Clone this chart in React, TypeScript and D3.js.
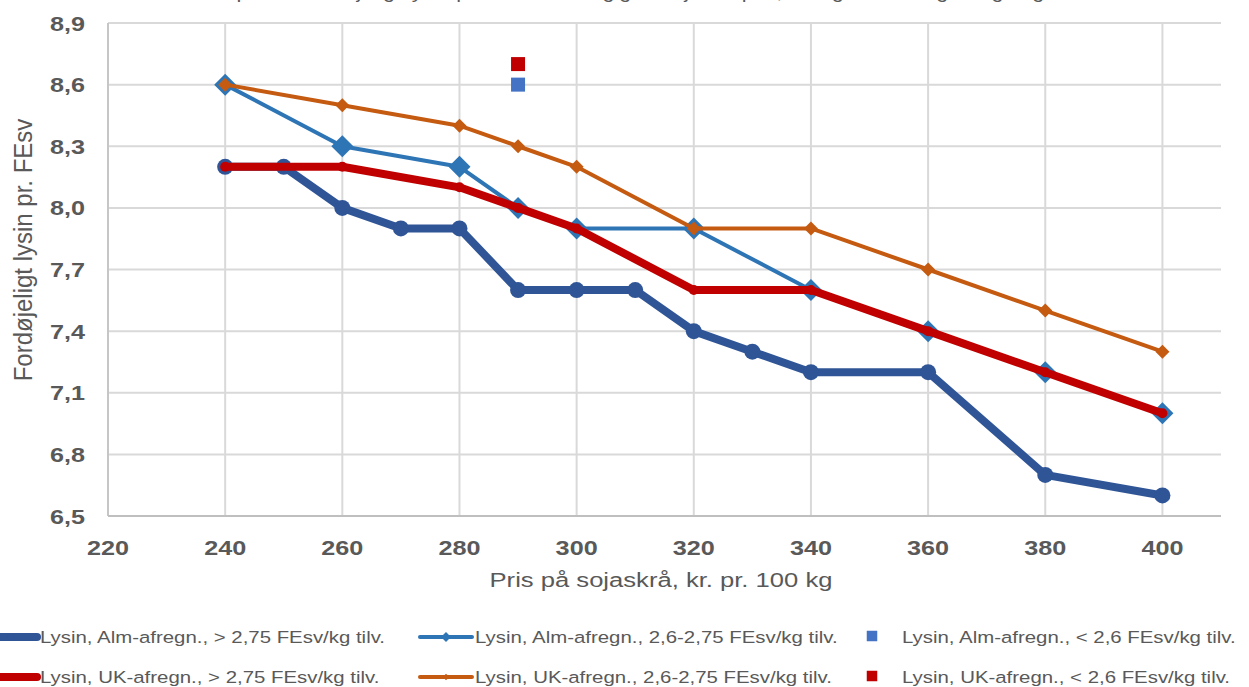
import React from "react";
import * as d3 from "d3";

const W = 1249;
const H = 687;

const xTicks = [220, 240, 260, 280, 300, 320, 340, 360, 380, 400];
const yTicks = [6.5, 6.8, 7.1, 7.4, 7.7, 8.0, 8.3, 8.6, 8.9];

const almHighX = [240, 250, 260, 270, 280, 290, 300, 310, 320, 330, 340, 360, 380, 400];
const almHighY = [8.2, 8.2, 8.0, 7.9, 7.9, 7.6, 7.6, 7.6, 7.4, 7.3, 7.2, 7.2, 6.7, 6.6];

const almMidX = [240, 260, 280, 290, 300, 320, 340, 360, 380, 400];
const almMidY = [8.6, 8.3, 8.2, 8.0, 7.9, 7.9, 7.6, 7.4, 7.2, 7.0];

const almLowX = [290];
const almLowY = [8.6];

const ukHighX = [240, 260, 280, 290, 300, 320, 340, 360, 380, 400];
const ukHighY = [8.2, 8.2, 8.1, 8.0, 7.9, 7.6, 7.6, 7.4, 7.2, 7.0];

const ukMidX = [240, 260, 280, 290, 300, 320, 340, 360, 380, 400];
const ukMidY = [8.6, 8.5, 8.4, 8.3, 8.2, 7.9, 7.9, 7.7, 7.5, 7.3];

const ukLowX = [290];
const ukLowY = [8.7];

const seriesNames = [
  "Lysin, Alm-afregn., > 2,75 FEsv/kg tilv.",
  "Lysin, Alm-afregn., 2,6-2,75 FEsv/kg tilv.",
  "Lysin, Alm-afregn., < 2,6 FEsv/kg tilv.",
  "Lysin, UK-afregn., > 2,75 FEsv/kg tilv.",
  "Lysin, UK-afregn., 2,6-2,75 FEsv/kg tilv.",
  "Lysin, UK-afregn., < 2,6 FEsv/kg tilv.",
];

const titleText =
  "Optimalt fordøjeligt lysin pr. FEsv afhængig af sojaskråpris, energiindhold og afregning";

type S = {
  name: string;
  xs: number[];
  ys: number[];
  color: string;
  width: number;
  marker: "circle" | "diamond" | "square";
  msize: number;
  line: boolean;
};

const series: S[] = [
  { name: seriesNames[0], xs: almHighX, ys: almHighY, color: "#2F5597", width: 8, marker: "circle", msize: 8, line: true },
  { name: seriesNames[1], xs: almMidX, ys: almMidY, color: "#2E75B6", width: 4, marker: "diamond", msize: 11, line: true },
  { name: seriesNames[2], xs: almLowX, ys: almLowY, color: "#4472C4", width: 0, marker: "square", msize: 7, line: false },
  { name: seriesNames[3], xs: ukHighX, ys: ukHighY, color: "#C00000", width: 8, marker: "circle", msize: 5, line: true },
  { name: seriesNames[4], xs: ukMidX, ys: ukMidY, color: "#C55A11", width: 4, marker: "diamond", msize: 7, line: true },
  { name: seriesNames[5], xs: ukLowX, ys: ukLowY, color: "#C00000", width: 0, marker: "square", msize: 7, line: false },
];

const left = 108;
const right = 1221;
const top = 23;
const bottom = 516;

const x = d3.scaleLinear().domain([220, 410]).range([left, right]);
const y = d3.scaleLinear().domain([6.5, 8.9]).range([bottom, top]);

const FONT = "'Liberation Sans', Arial, sans-serif";
const TXT = "#595959";
const SX = 1.2;

function SText({
  x: tx,
  y: ty,
  anchor = "start",
  size,
  bold = false,
  sx = SX,
  children,
}: {
  x: number;
  y: number;
  anchor?: "start" | "middle" | "end";
  size: number;
  bold?: boolean;
  sx?: number;
  children: React.ReactNode;
}) {
  return (
    <text
      transform={`translate(${tx},${ty}) scale(${sx},1)`}
      textAnchor={anchor}
      fontSize={size}
      fontWeight={bold ? "bold" : "normal"}
      fill={TXT}
    >
      {children}
    </text>
  );
}

function Marker({ s, cx, cy, scale = 1 }: { s: S; cx: number; cy: number; scale?: number }) {
  const r = s.msize * scale;
  if (s.marker === "circle") return <circle cx={cx} cy={cy} r={r} fill={s.color} />;
  if (s.marker === "diamond")
    return (
      <path
        d={`M${cx},${cy - r}L${cx + r},${cy}L${cx},${cy + r}L${cx - r},${cy}Z`}
        fill={s.color}
      />
    );
  return <rect x={cx - r} y={cy - r} width={2 * r} height={2 * r} fill={s.color} />;
}

export default function App() {
  const line = d3
    .line<[number, number]>()
    .x((d) => x(d[0]))
    .y((d) => y(d[1]));

  const legendPos = [
    { l1: -15, l2: 37, m: 11, tx: 40, ly: 637 },
    { l1: 420, l2: 472, m: 446, tx: 475, ly: 637 },
    { l1: 0, l2: 0, m: 872, tx: 902, ly: 637 },
    { l1: -15, l2: 37, m: 11, tx: 40, ly: 677 },
    { l1: 420, l2: 472, m: 446, tx: 475, ly: 677 },
    { l1: 0, l2: 0, m: 872, tx: 902, ly: 677 },
  ];

  return (
    <svg
      width={W}
      height={H}
      style={{ position: "absolute", left: 0, top: 0, background: "#fff" }}
      fontFamily={FONT}
    >
      <rect x={0} y={0} width={W} height={H} fill="#fff" />
      <SText x={632} y={-2} anchor="middle" size={18}>
        {titleText}
      </SText>
      {/* gridlines */}
      {yTicks.map((t) => (
        <line key={"gy" + t} x1={left} x2={right} y1={y(t)} y2={y(t)} stroke="#D9D9D9" strokeWidth={2} />
      ))}
      {xTicks.map((t) => (
        <line key={"gx" + t} x1={x(t)} x2={x(t)} y1={top} y2={bottom} stroke="#D9D9D9" strokeWidth={2} />
      ))}
      <line x1={left} x2={right} y1={bottom} y2={bottom} stroke="#BFBFBF" strokeWidth={2} />
      <line x1={left} x2={left} y1={top} y2={bottom} stroke="#BFBFBF" strokeWidth={1.5} />
      {/* tick labels */}
      {yTicks.map((t) => (
        <SText key={"ty" + t} x={85} y={y(t) + 7.5} anchor="end" size={21} bold>
          {d3.format(".1f")(t).replace(".", ",")}
        </SText>
      ))}
      {xTicks.map((t) => (
        <SText key={"tx" + t} x={x(t)} y={555} anchor="middle" size={21} bold>
          {t}
        </SText>
      ))}
      <SText x={661} y={587} anchor="middle" size={21} sx={1.22}>
        Pris på sojaskrå, kr. pr. 100 kg
      </SText>
      <text
        transform={`translate(32,250) rotate(-90) scale(1,1.1)`}
        textAnchor="middle"
        fontSize={24}
        fill={TXT}
      >
        Fordøjeligt  lysin pr. FEsv
      </text>
      {/* series */}
      {series.map((s, i) => (
        <g key={"s" + i}>
          {s.line && (
            <path
              d={line(s.xs.map((v, j) => [v, s.ys[j]] as [number, number])) || ""}
              fill="none"
              stroke={s.color}
              strokeWidth={s.width}
              strokeLinejoin="round"
            />
          )}
          {s.xs.map((v, j) => (
            <Marker key={j} s={s} cx={x(v)} cy={y(s.ys[j])} />
          ))}
        </g>
      ))}
      {/* legend */}
      {series.map((s, i) => {
        const p = legendPos[i];
        return (
          <g key={"l" + i}>
            {s.line ? (
              <g>
                <line x1={p.l1} x2={p.l2} y1={p.ly} y2={p.ly} stroke={s.color} strokeWidth={s.width} strokeLinecap="round" />
                <Marker s={s} cx={p.m} cy={p.ly} scale={0.45} />
              </g>
            ) : (
              <Marker s={s} cx={p.m} cy={p.ly - 1} scale={0.75} />
            )}
            <SText x={p.tx} y={p.ly + 6} size={17}>
              {s.name}
            </SText>
          </g>
        );
      })}
    </svg>
  );
}
